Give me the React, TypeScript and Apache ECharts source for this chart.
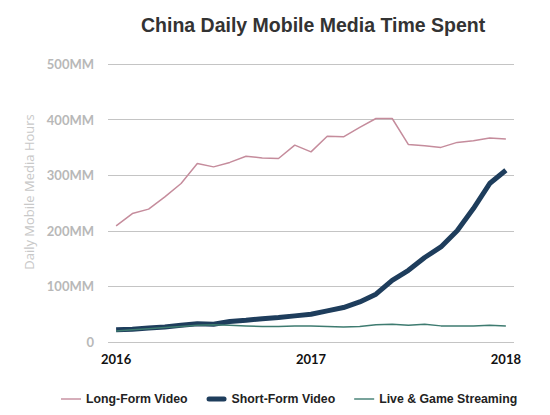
import React, { useEffect, useRef } from "react";
import * as echarts from "echarts";

const months: string[] = [
  "2016-01","2016-02","2016-03","2016-04","2016-05","2016-06","2016-07","2016-08","2016-09","2016-10","2016-11","2016-12",
  "2017-01","2017-02","2017-03","2017-04","2017-05","2017-06","2017-07","2017-08","2017-09","2017-10","2017-11","2017-12",
  "2018-01",
];
const yearTicks: Record<number, string> = { 0: "2016", 12: "2017", 24: "2018" };

const longForm = [209,231,239,261,285,321,315,323,334,331,330,354,342,370,369,386,402,402,355,353,350,359,362,367,365];
const shortForm = [22,23,25,27,30,33,32,37,39,42,44,47,50,56,62,72,86,111,129,152,171,200,240,285,309];
const liveGame = [20,22,24,26,28,30,31,30,29,28,28,29,29,28,27,28,31,32,30,32,29,29,29,30,29];

const seriesNames = ["Long-Form Video", "Short-Form Video", "Live & Game Streaming"];
const colors = ["#c58c9c", "#1e3d5c", "#3e7b70"];

const thinIcon = "path://M0,0L0,0M0,10L0,10M0,4.3H20V5.7H0Z";
const thickIcon = "path://M0,0L0,0M0,10L0,10M2.5,2.5H17.5A2.5,2.5,0,0,1,17.5,7.5H2.5A2.5,2.5,0,0,1,2.5,2.5Z";

export default function App() {
  const ref = useRef<HTMLDivElement>(null);
  useEffect(() => {
    document.body.style.margin = "0";
    if (!ref.current) return;
    const chart = echarts.init(ref.current, null, { renderer: "svg" });
    chart.setOption({
      animation: false,
      backgroundColor: "#ffffff",
      title: {
        text: "China Daily Mobile Media Time Spent",
        left: 136,
        top: 10,
        textStyle: { fontFamily: "Liberation Sans", fontWeight: "bold", fontSize: 19.5, color: "#333333" },
      },
      legend: {
        top: 388,
        left: 56,
        itemWidth: 20,
        itemHeight: 10,
        itemGap: 19,
        data: [
          { name: seriesNames[0], icon: thinIcon },
          { name: seriesNames[1], icon: thickIcon },
          { name: seriesNames[2], icon: thinIcon },
        ],
        textStyle: { fontFamily: "Liberation Sans", fontWeight: "bold", fontSize: 12.3, color: "#222222" },
      },
      grid: { left: 108, right: 36, top: 64, bottom: 73 },
      xAxis: {
        type: "category",
        data: months,
        boundaryGap: true,
        axisLine: { show: false },
        axisTick: { show: false },
        axisLabel: {
          interval: (i: number) => yearTicks[i] !== undefined,
          formatter: (_v: string, i: number) => yearTicks[i] ?? "",
          fontFamily: "Lato",
          fontWeight: "bold",
          fontSize: 13,
          color: "#111111",
          margin: 10,
        },
      },
      yAxis: {
        type: "value",
        min: 0,
        max: 500,
        interval: 100,
        name: "Daily Mobile Media Hours",
        nameLocation: "middle",
        nameGap: 59,
        nameTextStyle: { fontFamily: "Open Sans", fontSize: 13, color: "#c8c8c8", padding: [0, 0, 0, 22] },
        axisLine: { show: false },
        axisTick: { show: false },
        splitLine: { lineStyle: { color: "#c4c4c4", width: 1 } },
        axisLabel: {
          formatter: (v: number) => (v === 0 ? "0" : v + "MM"),
          fontFamily: "Lato",
          fontWeight: "bold",
          fontSize: 13,
          color: "#b8b8b8",
          margin: 14,
        },
      },
      series: [
        {
          name: seriesNames[0], type: "line", data: longForm, symbol: "none",
          lineStyle: { color: colors[0], width: 1.5 }, itemStyle: { color: colors[0] },
        },
        {
          name: seriesNames[1], type: "line", data: shortForm, symbol: "none",
          lineStyle: { color: colors[1], width: 5 }, itemStyle: { color: colors[1] },
        },
        {
          name: seriesNames[2], type: "line", data: liveGame, symbol: "none",
          lineStyle: { color: colors[2], width: 1.5 }, itemStyle: { color: colors[2] },
        },
      ],
    });
    return () => chart.dispose();
  }, []);
  return <div ref={ref} style={{ width: 550, height: 415 }} />;
}
